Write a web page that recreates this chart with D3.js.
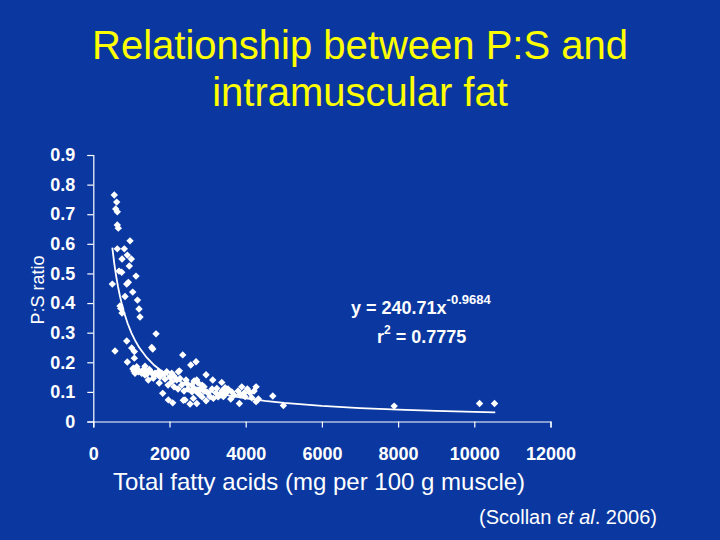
<!DOCTYPE html>
<html><head><meta charset="utf-8">
<script src="https://cdn.jsdelivr.net/npm/d3@7"></script>
<style>
html,body{margin:0;padding:0;background:#0a38a0;}
svg{display:block;}
text{font-family:Arial,"Liberation Sans",sans-serif;}
</style></head>
<body>
<svg id="chart" width="720" height="540"></svg>
<script>
// ---- data ----
const titleLines = ["Relationship between P:S and", "intramuscular fat"];
const xTicks = [0, 2000, 4000, 6000, 8000, 10000, 12000];
const xTickLabels = ["0", "2000", "4000", "6000", "8000", "10000", "12000"];
const yTicks = [0, 0.1, 0.2, 0.3, 0.4, 0.5, 0.6, 0.7, 0.8, 0.9];
const yTickLabels = ["0", "0.1", "0.2", "0.3", "0.4", "0.5", "0.6", "0.7", "0.8", "0.9"];
const fatX = [551,614,588,630,630,656,964,630,814,893,754,998,945,675,746,1121,499,877,920,1035,832,1160,1200,1226,701,720,754,1647,877,570,1008,1077,1534,1560,893,1077,2348,2558,2697,1050,1140,1358,1471,1095,1182,1270,1358,1620,1707,1795,1927,2059,2258,1444,1576,1752,1883,2059,2190,2321,2453,2584,2715,1822,1970,2085,2408,2540,2960,3135,3372,3241,3459,3635,3897,4044,4273,3853,3984,4159,3834,4333,2802,2978,3065,3151,3327,3414,3608,2626,2715,4711,4990,2363,4273,7897,10137,10531,2232,
  1042,1121,1069,1200,1305,1331,1410,1463,1541,1594,1699,1857,2014,2119,2277,2434,2645,2750,2855,2907,2645,2697,2750,2592,2802,2907,3012,2855,3117,3222,3380,3485,3537,3695,3800,3958,4115,4220,2960,3275,2487,2382,2224,1962,2119,1730];
const psRatio = [0.765,0.741,0.718,0.708,0.664,0.653,0.610,0.583,0.583,0.562,0.549,0.549,0.525,0.508,0.504,0.491,0.464,0.464,0.470,0.437,0.422,0.410,0.380,0.353,0.390,0.382,0.366,0.296,0.272,0.238,0.248,0.236,0.250,0.245,0.201,0.214,0.225,0.191,0.202,0.180,0.185,0.187,0.176,0.163,0.168,0.163,0.157,0.163,0.168,0.163,0.168,0.163,0.171,0.140,0.146,0.151,0.143,0.134,0.140,0.123,0.129,0.123,0.140,0.095,0.073,0.063,0.073,0.059,0.158,0.140,0.132,0.112,0.114,0.100,0.117,0.110,0.117,0.090,0.084,0.080,0.061,0.076,0.090,0.100,0.084,0.078,0.090,0.084,0.076,0.078,0.061,0.086,0.054,0.072,0.067,0.052,0.061,0.061,0.168,
  0.177,0.174,0.170,0.171,0.168,0.177,0.160,0.171,0.164,0.155,0.157,0.160,0.150,0.153,0.145,0.140,0.137,0.130,0.123,0.117,0.110,0.103,0.096,0.100,0.110,0.103,0.096,0.083,0.110,0.096,0.103,0.096,0.110,0.089,0.103,0.096,0.096,0.103,0.070,0.083,0.110,0.103,0.110,0.123,0.117,0.130];
// power trendline as printed on the chart: y = 240.71 x^-0.9684
const fitA = 240.71, fitB = -0.9684;
const trendX = [499,550,600,650,700,750,800,900,1000,1100,1200,1400,1600,1800,2000,2300,2600,3000,3500,4000,4500,5000,6000,7000,8000,9000,10000,10550];
const eqText = "y = 240.71x", eqExp = "-0.9684";
const r2Value = "0.7775";

// ---- chart ----
const svg = d3.select("#chart");
const bg = "#0a38a0";
svg.append("rect").attr("width",720).attr("height",540).attr("fill",bg);

const x = d3.scaleLinear().domain([0,12000]).range([93.3,550.5]);
const y = d3.scaleLinear().domain([0,0.9]).range([421.5,155]);

// title
svg.append("g").selectAll("text").data(titleLines).join("text")
  .attr("x",360).attr("y",(d,i)=>59+i*47)
  .attr("text-anchor","middle").attr("fill","#ffff00")
  .style("font-size","40px").text(d=>d);

// axes
const yAxis = d3.axisLeft(y).tickValues(yTicks).tickSizeOuter(0).tickSize(6).tickPadding(12)
  .tickFormat((d,i)=>yTickLabels[i]);
const gy = svg.append("g").attr("transform","translate(93.3,0)").call(yAxis);
const xAxis = d3.axisBottom(x).tickValues(xTicks).tickSizeOuter(0).tickSize(6).tickPadding(20)
  .tickFormat((d,i)=>xTickLabels[i]);
const gx = svg.append("g").attr("transform","translate(0,421.5)").call(xAxis);
[gx,gy].forEach(g=>{
  g.selectAll(".domain,line").attr("stroke","#ffffff").attr("stroke-width",1.2);
  g.selectAll("text").attr("fill","#ffffff").style("font-size","18px").style("font-weight","bold")
   .style("font-family","Arial, 'Liberation Sans', sans-serif");
});

// points
const pts = fatX.map((v,i)=>({x:v,y:psRatio[i]}));
const diamond = "M0,-3.7L3.7,0L0,3.7L-3.7,0Z";
svg.append("g").selectAll("path").data(pts).join("path")
  .attr("d",diamond).attr("fill","#ffffff")
  .attr("transform",d=>`translate(${x(d.x)},${y(d.y)})`);

// trend line
const line = d3.line().x(d=>x(d)).y(d=>y(fitA*Math.pow(d,fitB)));
svg.append("path").datum(trendX).attr("d",line)
  .attr("fill","none").attr("stroke","#ffffff").attr("stroke-width",1.8);

// equation
const eq = svg.append("text").attr("x",351).attr("y",314).attr("fill","#ffffff")
  .style("font-size","18px").style("font-weight","bold");
eq.append("tspan").text(eqText);
eq.append("tspan").attr("dy",-10).style("font-size","13px").text(eqExp);
const r2 = svg.append("text").attr("x",377).attr("y",343).attr("fill","#ffffff")
  .style("font-size","18px").style("font-weight","bold");
r2.append("tspan").text("r");
r2.append("tspan").attr("dy",-9).style("font-size","12px").text("2");
r2.append("tspan").attr("dy",9).text(" = " + r2Value);

// axis titles
svg.append("text").attr("transform","translate(44,290) rotate(-90)")
  .attr("text-anchor","middle").attr("fill","#ffffff").style("font-size","18px").text("P:S ratio");
svg.append("text").attr("x",319).attr("y",490).attr("text-anchor","middle")
  .attr("fill","#ffffff").style("font-size","24px").text("Total fatty acids (mg per 100 g muscle)");

// citation
const cit = svg.append("text").attr("x",657).attr("y",524).attr("text-anchor","end")
  .attr("fill","#ffffff").style("font-size","20px");
cit.append("tspan").text("(Scollan ");
cit.append("tspan").style("font-style","italic").text("et al");
cit.append("tspan").text(". 2006)");
</script>
</body></html>
